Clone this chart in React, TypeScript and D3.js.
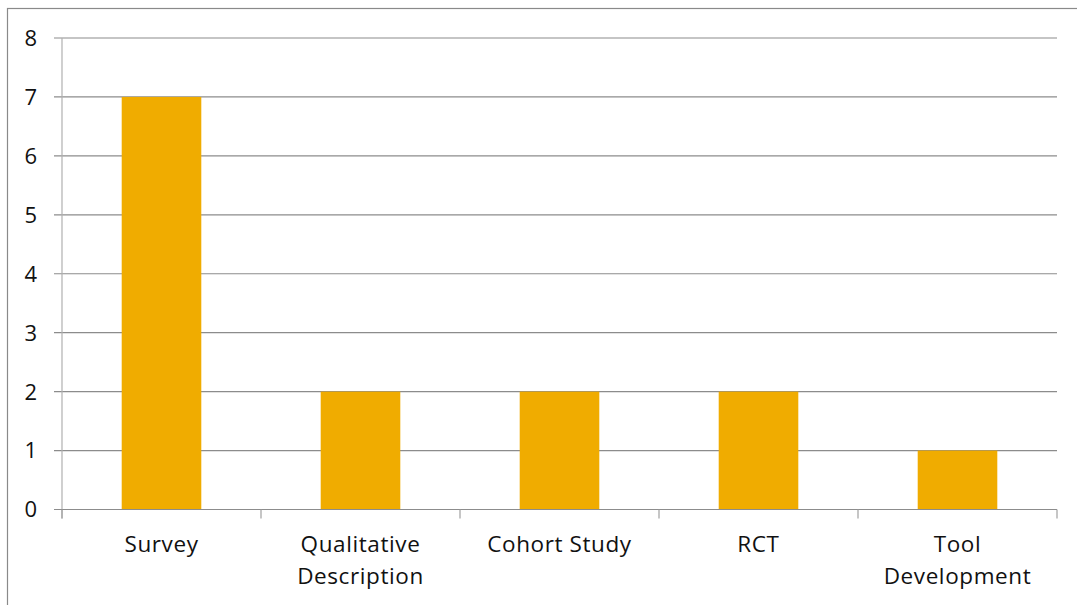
import { useEffect, useRef } from 'react';
import * as d3 from 'd3';

const categories: string[][] = [
  ['Survey'],
  ['Qualitative', 'Description'],
  ['Cohort Study'],
  ['RCT'],
  ['Tool', 'Development'],
];
const counts = [7, 2, 2, 2, 1];
const yTicks = [0, 1, 2, 3, 4, 5, 6, 7, 8];

const W = 1077;
const H = 605;
const MARGIN = { top: 38, right: 20, bottom: 95, left: 62 };
const BAR_COLOR = '#F0AC00';
const FONT = '"Open Sans", "Noto Sans", sans-serif';

export default function App() {
  const svgRef = useRef<SVGSVGElement>(null);

  useEffect(() => {
    if (!svgRef.current) return;
    const svg = d3.select(svgRef.current);
    svg.selectAll('*').remove();

    const innerW = 1057 - MARGIN.left;
    const innerH = 509.5 - MARGIN.top;

    // outer chart border (runs off the right / bottom edge)
    svg
      .append('rect')
      .attr('x', 7.5)
      .attr('y', 8.5)
      .attr('width', W + 10)
      .attr('height', H + 10)
      .attr('fill', '#fff')
      .attr('stroke', '#8a8a8a')
      .attr('stroke-width', 1.2);

    const g = svg
      .append('g')
      .attr('transform', `translate(${MARGIN.left},${MARGIN.top})`);

    const keys = categories.map(c => c.join(' '));
    const x = d3.scaleBand<string>().domain(keys).range([0, innerW]).paddingInner(0.6).paddingOuter(0.3);
    const band = d3.scaleBand<string>().domain(keys).range([0, innerW]);
    const y = d3.scaleLinear().domain([0, 8]).range([innerH, 0]);

    // ── Gridlines ─────────────────────────────────────────────
    g.append('g')
      .selectAll('line')
      .data(yTicks.filter(t => t > 0))
      .join('line')
      .attr('x1', -8)
      .attr('x2', innerW)
      .attr('y1', d => y(d))
      .attr('y2', d => y(d))
      .attr('stroke', '#8c8c8c')
      .attr('stroke-width', 1.2);

    // ── Bars ──────────────────────────────────────────────────
    g.append('g')
      .selectAll('rect')
      .data(counts)
      .join('rect')
      .attr('x', (_, i) => x(keys[i])!)
      .attr('y', d => y(d))
      .attr('width', x.bandwidth())
      .attr('height', d => innerH - y(d))
      .attr('fill', BAR_COLOR);

    // ── Y axis ────────────────────────────────────────────────
    g.append('line')
      .attr('x1', 0).attr('x2', 0)
      .attr('y1', 0).attr('y2', innerH + 9)
      .attr('stroke', '#b0b0b0')
      .attr('stroke-width', 1.2);
    g.append('line')
      .attr('x1', -8).attr('x2', innerW)
      .attr('y1', innerH).attr('y2', innerH)
      .attr('stroke', '#8c8c8c')
      .attr('stroke-width', 1.2);

    g.append('g')
      .selectAll('text')
      .data(yTicks)
      .join('text')
      .attr('x', -25)
      .attr('y', d => y(d))
      .attr('dy', '0.36em')
      .attr('text-anchor', 'end')
      .attr('font-family', FONT)
      .attr('font-size', 22)
      .attr('fill', '#111')
      .text(d => d);

    // ── X axis ticks + labels ─────────────────────────────────
    const tickXs = [...keys.map(k => band(k)!), innerW];
    g.append('g')
      .selectAll('line')
      .data(tickXs)
      .join('line')
      .attr('x1', d => d)
      .attr('x2', d => d)
      .attr('y1', innerH)
      .attr('y2', innerH + 9)
      .attr('stroke', '#a0a0a0')
      .attr('stroke-width', 1.2);

    const labels = g.append('g');
    categories.forEach((lines, i) => {
      const cx = band(keys[i])! + band.bandwidth() / 2;
      const t = labels
        .append('text')
        .attr('text-anchor', 'middle')
        .attr('font-family', FONT)
        .attr('font-size', 22.5)
        .attr('letter-spacing', 0.6)
        .attr('fill', '#111');
      lines.forEach((ln, j) => {
        t.append('tspan')
          .attr('x', cx)
          .attr('y', innerH + 42 + j * 32)
          .text(ln);
      });
    });
  }, []);

  return (
    <div style={{ position: 'absolute', left: 0, top: 0, width: W, height: H, background: '#fff' }}>
      <svg ref={svgRef} width={W} height={H} style={{ display: 'block' }} />
    </div>
  );
}
